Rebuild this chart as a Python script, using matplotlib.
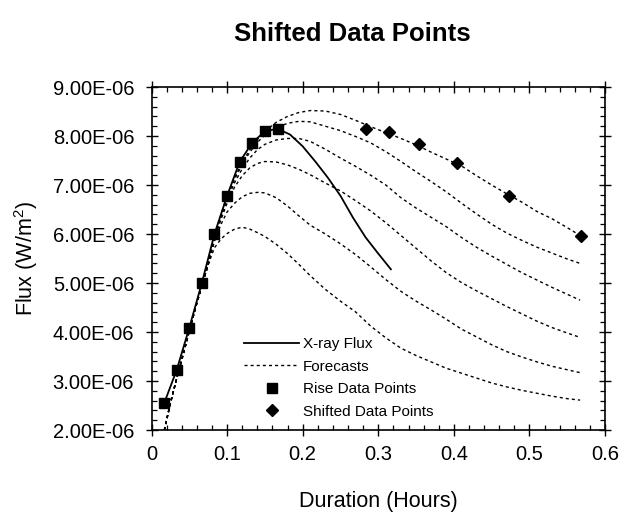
import numpy as np
import matplotlib
matplotlib.use('Agg')
import matplotlib.pyplot as plt
from matplotlib.ticker import MultipleLocator, FormatStrFormatter

plt.rcParams['font.family'] = ['Liberation Sans', 'DejaVu Sans']
plt.rcParams['mathtext.fontset'] = 'custom'
plt.rcParams['mathtext.rm'] = 'Liberation Sans'

# --- data (flux in units of 1E-06 W/m2) ---

# X-ray flux, one sample per minute
xray_x = [0.0167, 0.0333, 0.05, 0.0667, 0.0833, 0.1, 0.1167, 0.1333, 0.15, 0.1667,
          0.1833, 0.2, 0.2167, 0.2333, 0.25, 0.2667, 0.2833, 0.3, 0.3167]
xray_y = [2.545, 3.224, 4.088, 5.006, 6.0, 6.78, 7.476, 7.863, 8.096, 8.149,
          8.03, 7.79, 7.48, 7.15, 6.78, 6.33, 5.93, 5.60, 5.28]

# rise data points (squares)
rise_x = [0.0167, 0.0333, 0.05, 0.0667, 0.0833, 0.1, 0.1167, 0.1333, 0.15, 0.1667]
rise_y = [2.545, 3.224, 4.088, 5.006, 6.0, 6.78, 7.476, 7.863, 8.096, 8.149]

# shifted data points (diamonds)
shift_x = [0.2832, 0.3146, 0.3543, 0.4042, 0.4735, 0.568]
shift_y = [8.137, 8.078, 7.837, 7.455, 6.776, 5.965]

# forecast curves, all sampled on the same durations
fc_x = [0.017, 0.025, 0.0333, 0.042, 0.05, 0.0583, 0.0667, 0.075, 0.0833, 0.092,
        0.10, 0.11, 0.12, 0.13, 0.14, 0.15, 0.165, 0.18, 0.195, 0.21,
        0.23, 0.25, 0.27, 0.29, 0.31, 0.33, 0.35, 0.37, 0.39, 0.41,
        0.43, 0.45, 0.47, 0.49, 0.51, 0.53, 0.55, 0.567]
fc_rise = [2.0, 2.55, 3.05, 3.55, 4.02, 4.5, 4.95, 5.38]
fc1 = fc_rise + [5.97, 6.40, 6.78, 7.15, 7.46, 7.72, 7.93, 8.10, 8.28, 8.40, 8.48, 8.52,
                 8.51, 8.44, 8.32, 8.19, 8.07, 7.95, 7.82, 7.67, 7.53, 7.39,
                 7.19, 7.00, 6.82, 6.65, 6.46, 6.31, 6.13, 5.97]
fc2 = fc_rise + [5.95, 6.38, 6.75, 7.12, 7.42, 7.67, 7.87, 8.02, 8.17, 8.26, 8.30, 8.29,
                 8.20, 8.11, 7.99, 7.86, 7.68, 7.48, 7.27, 7.07, 6.86, 6.63,
                 6.41, 6.20, 6.02, 5.87, 5.73, 5.61, 5.49, 5.40]
fc3 = fc_rise + [5.93, 6.35, 6.70, 7.05, 7.33, 7.55, 7.72, 7.83, 7.92, 7.95, 7.95, 7.89,
                 7.73, 7.55, 7.38, 7.20, 7.00, 6.74, 6.53, 6.34, 6.15, 5.93,
                 5.73, 5.55, 5.38, 5.21, 5.06, 4.91, 4.77, 4.65]
fc4 = fc_rise + [5.90, 6.30, 6.63, 6.96, 7.19, 7.35, 7.44, 7.48, 7.47, 7.41, 7.32, 7.21,
                 7.04, 6.88, 6.68, 6.47, 6.23, 5.97, 5.71, 5.45, 5.21, 5.01,
                 4.84, 4.68, 4.52, 4.37, 4.22, 4.09, 3.98, 3.89]
fc5 = fc_rise + [5.85, 6.20, 6.45, 6.63, 6.76, 6.83, 6.85, 6.84, 6.74, 6.57, 6.37, 6.18,
                 6.00, 5.80, 5.58, 5.33, 5.07, 4.83, 4.63, 4.45, 4.26, 4.06,
                 3.90, 3.74, 3.60, 3.49, 3.39, 3.30, 3.23, 3.17]
fc6 = fc_rise + [5.72, 5.90, 6.01, 6.10, 6.14, 6.10, 6.03, 5.95, 5.79, 5.60, 5.38, 5.15,
                 4.87, 4.63, 4.41, 4.12, 3.88, 3.67, 3.52, 3.39, 3.26, 3.16,
                 3.06, 2.96, 2.88, 2.81, 2.75, 2.69, 2.64, 2.61]
forecasts = [fc1, fc2, fc3, fc4, fc5, fc6]

scale = 1e-6

# --- figure ---
fig = plt.figure(figsize=(6.24, 5.14), dpi=100)
ax = fig.add_axes([0.2428, 0.1634, 0.7268, 0.6673])

fx = np.asarray(fc_x)
for i, fc in enumerate(forecasts):
    ax.plot(fx, np.asarray(fc) * scale, color='black', lw=1.0,
            linestyle=(0, (2.2, 2.2)), label='Forecasts' if i == 0 else None,
            zorder=2)
ax.plot(xray_x, np.asarray(xray_y) * scale, color='black', lw=1.3,
        label='X-ray Flux', zorder=3)
ax.plot(rise_x, np.asarray(rise_y) * scale, 's', color='black', ms=6.5,
        label='Rise Data Points', zorder=4)
ax.plot(shift_x, np.asarray(shift_y) * scale, 'D', color='black', ms=6,
        label='Shifted Data Points', zorder=4)

ax.set_xlim(0, 0.6)
ax.set_ylim(2e-6, 9e-6)
ax.xaxis.set_major_locator(MultipleLocator(0.1))
ax.xaxis.set_minor_locator(MultipleLocator(0.02))
ax.yaxis.set_major_locator(MultipleLocator(1e-6))
ax.yaxis.set_minor_locator(MultipleLocator(0.2e-6))
ax.yaxis.set_major_formatter(FormatStrFormatter('%.2E'))
ax.xaxis.set_major_formatter(matplotlib.ticker.FuncFormatter(
    lambda v, p: '0' if abs(v) < 1e-9 else '%g' % round(v, 1)))

ax.tick_params(which='major', direction='inout', length=9, width=1.0,
               top=True, right=True, labelsize=14.5, color='black')
ax.tick_params(which='minor', direction='in', length=3.6, width=0.9,
               top=True, right=True)
ax.tick_params(axis='x', which='major', pad=6)
ax.tick_params(axis='y', which='major', pad=8)
for s in ax.spines.values():
    s.set_linewidth(1.2)

ax.set_xlabel('Duration (Hours)', fontsize=15.5, labelpad=20)
ax.set_ylabel('Flux (W/m$^{2}$)', fontsize=15.5, labelpad=9)

fig.text(352 / 624, 1 - 34 / 514, 'Shifted Data Points', ha='center',
         va='center', fontsize=18.5, fontweight='bold')

handles, labels = ax.get_legend_handles_labels()
order = [labels.index(n) for n in ['X-ray Flux', 'Forecasts',
                                   'Rise Data Points', 'Shifted Data Points']]
ax.legend([handles[k] for k in order], [labels[k] for k in order],
          loc='upper left', bbox_to_anchor=(244 / 624, 1 - 337 / 514),
          bbox_transform=fig.transFigure, frameon=False, fontsize=11,
          handlelength=3.6, handletextpad=0.27, labelspacing=0.56,
          borderpad=0, borderaxespad=0)

fig.savefig('out.png', dpi=100)
